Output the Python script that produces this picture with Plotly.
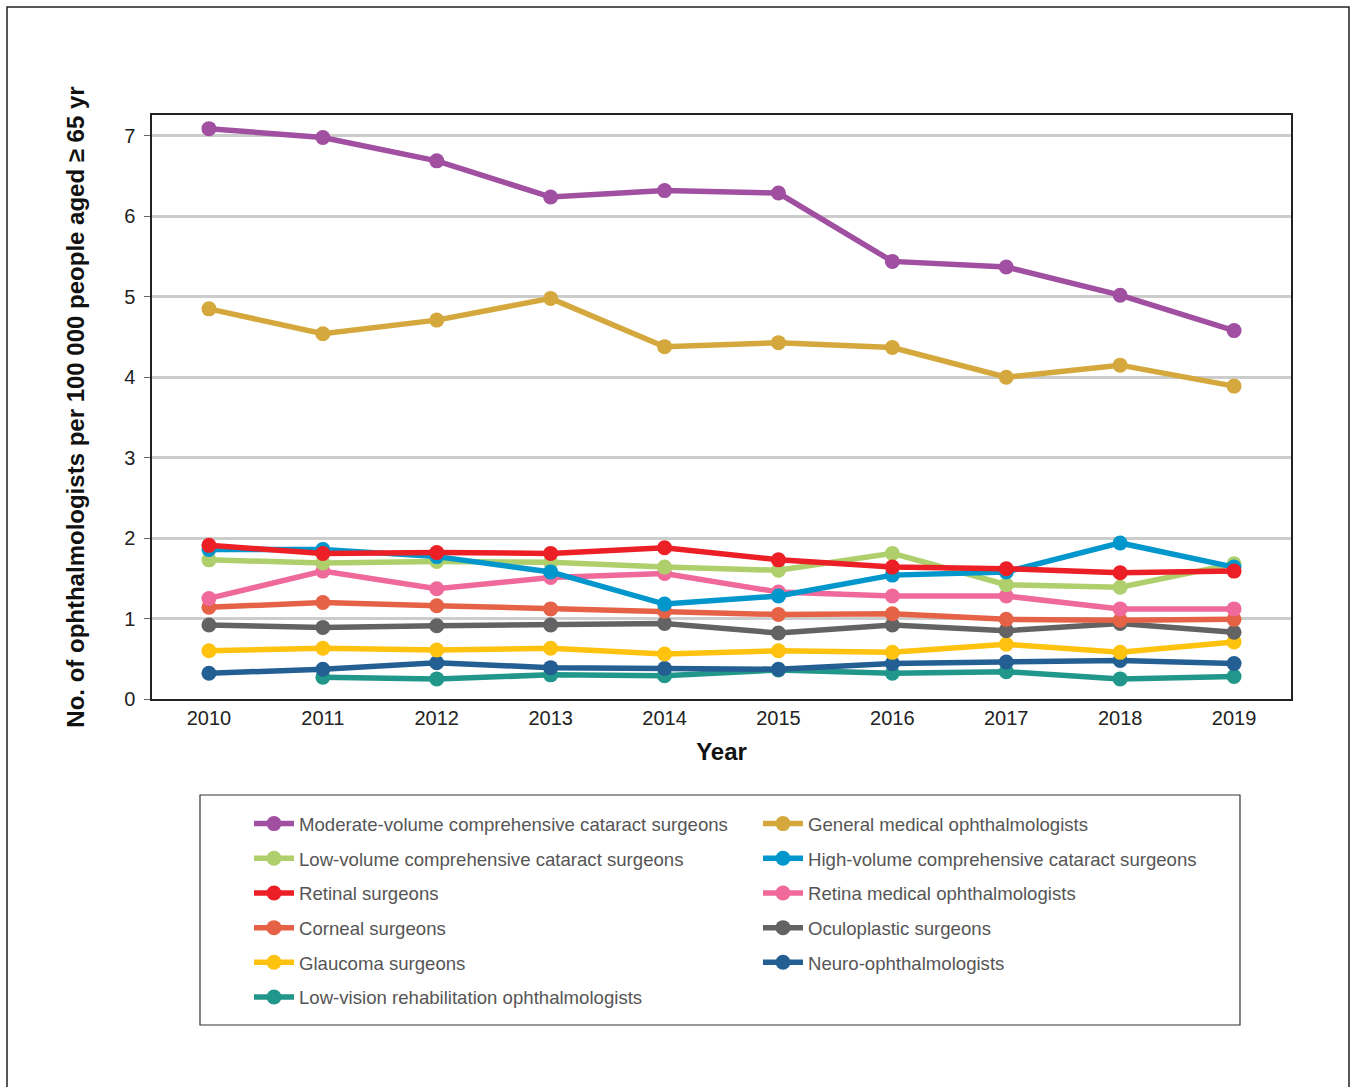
import plotly.graph_objects as go

years = [2010, 2011, 2012, 2013, 2014, 2015, 2016, 2017, 2018, 2019]

moderate_volume = [7.09, 6.98, 6.69, 6.24, 6.32, 6.29, 5.44, 5.37, 5.02, 4.58]
general_medical = [4.85, 4.54, 4.71, 4.98, 4.38, 4.43, 4.37, 4.00, 4.15, 3.89]
low_volume = [1.73, 1.69, 1.71, 1.70, 1.64, 1.60, 1.81, 1.42, 1.39, 1.68]
high_volume = [1.86, 1.86, 1.77, 1.58, 1.18, 1.28, 1.54, 1.58, 1.94, 1.64]
retinal_surgeons = [1.91, 1.81, 1.82, 1.81, 1.88, 1.73, 1.64, 1.62, 1.57, 1.59]
retina_medical = [1.25, 1.59, 1.37, 1.51, 1.56, 1.33, 1.28, 1.28, 1.12, 1.12]
corneal = [1.14, 1.20, 1.16, 1.12, 1.09, 1.05, 1.06, 0.99, 0.98, 0.99]
oculoplastic = [0.92, 0.89, 0.91, 0.92, 0.94, 0.82, 0.92, 0.85, 0.94, 0.83]
glaucoma = [0.60, 0.63, 0.61, 0.63, 0.56, 0.60, 0.58, 0.68, 0.58, 0.71]
neuro = [0.32, 0.37, 0.45, 0.39, 0.38, 0.37, 0.44, 0.46, 0.48, 0.44]
low_vision = [None, 0.27, 0.25, 0.30, 0.29, 0.36, 0.32, 0.34, 0.25, 0.28]

series_names = [
    "Moderate-volume comprehensive cataract surgeons",
    "General medical ophthalmologists",
    "Low-volume comprehensive cataract surgeons",
    "High-volume comprehensive cataract surgeons",
    "Retinal surgeons",
    "Retina medical ophthalmologists",
    "Corneal surgeons",
    "Oculoplastic surgeons",
    "Glaucoma surgeons",
    "Neuro-ophthalmologists",
    "Low-vision rehabilitation ophthalmologists",
]
series_values = [moderate_volume, general_medical, low_volume, high_volume,
                 retinal_surgeons, retina_medical, corneal, oculoplastic,
                 glaucoma, neuro, low_vision]
colors = ["#A04FA1", "#D4A83C", "#AECF6C", "#0196CC", "#EC1F27", "#EF6A9A",
          "#E66246", "#636363", "#FEC20F", "#245F94", "#21968A"]
# which legend column each series belongs to (0 = left, 1 = right)
legend_cols = [0, 1, 0, 1, 0, 1, 0, 1, 0, 1, 0]
# drawing order (bottom first)
draw_order = [10, 9, 8, 7, 6, 5, 2, 3, 4, 1, 0]

fig = go.Figure()
for i in draw_order:
    fig.add_trace(go.Scatter(
        x=years, y=series_values[i], name=series_names[i],
        mode="lines+markers",
        line=dict(color=colors[i], width=5.5),
        marker=dict(color=colors[i], size=15),
        legend="legend" if legend_cols[i] == 0 else "legend2",
        legendgroup="g%d" % i,
        legendrank=i + 1,
        connectgaps=False,
    ))

W, H = 1353, 1087
L, R, T, B = 152, 1291, 115, 699
pw, ph = R - L, B - T


def px(p):
    return (p - L) / pw


def py(q):
    return (B - q) / ph


legend_font = dict(family="Liberation Sans, Arial, sans-serif", size=18.6, color="#555555")

fig.update_layout(
    width=W, height=H,
    margin=dict(l=L, r=W - R, t=T, b=H - B),
    paper_bgcolor="white", plot_bgcolor="white",
    font=dict(family="Liberation Sans, Arial, sans-serif", size=20, color="#222222"),
    xaxis=dict(
        range=[2009.5, 2019.5], tickmode="array", tickvals=years,
        ticktext=[str(y) for y in years],
        showgrid=False, zeroline=False,
        showline=True, linecolor="#222222", linewidth=1.5, mirror=True,
        ticks="", tickfont=dict(size=20, color="#222222"),
        title=dict(text="<b>Year</b>", font=dict(size=24, color="#111111"), standoff=15),
    ),
    yaxis=dict(
        range=[0, 7.26], tickmode="linear", tick0=0, dtick=1,
        showgrid=True, gridcolor="#CCCCCC", gridwidth=2.5, zeroline=False,
        showline=True, linecolor="#222222", linewidth=1.5, mirror=True,
        ticks="outside", ticklen=6, tickcolor="#666666", tickwidth=1.2,
        ticklabelstandoff=5,
        tickfont=dict(size=20, color="#222222"),
        title=dict(text="<b>No. of ophthalmologists per 100 000 people aged \u2265 65 yr</b>",
                   font=dict(size=24, color="#111111"), standoff=33),
    ),
    legend=dict(
        x=px(249), y=py(805), xanchor="left", yanchor="top",
        orientation="v", tracegroupgap=7.5, font=legend_font,
        bgcolor="rgba(0,0,0,0)", borderwidth=0, itemwidth=40,
    ),
    legend2=dict(
        x=px(758), y=py(805), xanchor="left", yanchor="top",
        orientation="v", tracegroupgap=7.5, font=legend_font,
        bgcolor="rgba(0,0,0,0)", borderwidth=0, itemwidth=40,
    ),
    shapes=[
        dict(type="rect", xref="paper", yref="paper",
             x0=px(200), x1=px(1240), y0=py(1025), y1=py(795),
             line=dict(color="#333333", width=1.2), fillcolor="rgba(0,0,0,0)", layer="below"),
        dict(type="rect", xref="paper", yref="paper",
             x0=px(7), x1=px(1349), y0=py(1095), y1=py(7),
             line=dict(color="#222222", width=1.5), fillcolor="rgba(0,0,0,0)", layer="below"),
    ],
)

fig.write_html("out.html", config={"displayModeBar": False},
               post_script="document.body.style.margin='0px';")
